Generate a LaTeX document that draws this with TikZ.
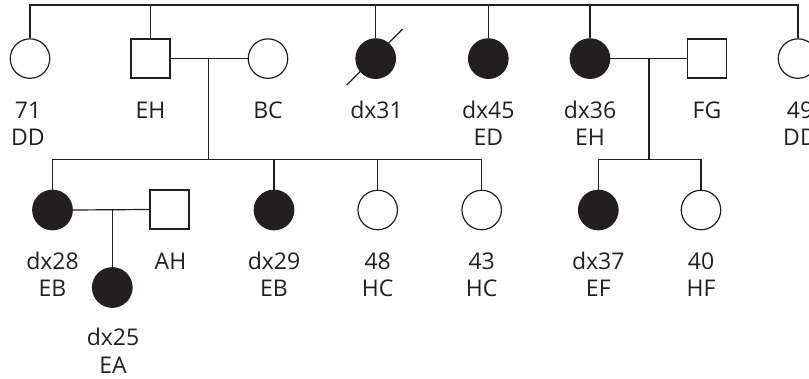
\documentclass[tikz,border=0pt]{standalone}
\usepackage{fontspec}
\setmainfont{Open Sans}
\definecolor{ink}{HTML}{231F20}
\newcommand\plab[5]{%
  \node[lab] (#1a) at (#2,#3) {#4};
  \node[lab] (#1b) at (#2,#3+27.7) {#5};}
\begin{document}
\begin{tikzpicture}[x=1pt,y=-1pt,color=ink,line width=1.2pt,
  fem/.style={circle,draw=ink,line width=1.2pt,minimum size=39.5pt,inner sep=0pt,fill=white},
  affected/.style={fem,fill=ink},
  male/.style={rectangle,draw=ink,line width=1.2pt,minimum size=39pt,inner sep=0pt,fill=white},
  lab/.style={font=\fontsize{23}{27}\selectfont,text=ink,anchor=base,inner sep=0pt}]
\useasboundingbox (0,0) rectangle (809,379);
\clip (0,0) rectangle (809,379);
% generation II
\node[fem] (n71) at (30,58.6) {};
\node[male] (nEH) at (150.5,58.6) {};
\node[fem] (nBC) at (268,58.6) {};
\node[affected] (n31) at (375.7,58.6) {};
\node[affected] (n45) at (488.3,58.6) {};
\node[affected] (n36) at (590,58.6) {};
\node[male] (nFG) at (707,58.6) {};
\node[fem] (n49) at (798,58.6) {};
% generation III
\node[affected] (n28) at (52.5,210) {};
\node[male] (nAH) at (169.5,209.5) {};
\node[affected] (n29) at (274,210) {};
\node[fem] (n48) at (377.7,210) {};
\node[fem] (n43) at (481.7,210) {};
\node[affected] (n37) at (598.3,210) {};
\node[fem] (n40) at (701,210) {};
% generation IV
\node[affected] (n25) at (112.3,287.5) {};
% coordinates
\coordinate (top) at (30,5);
\coordinate (m1) at (208.3,58.6);
\coordinate (s1) at (208.3,159.3);
\coordinate (m2) at (649,58.6);
\coordinate (s2) at (649,159.3);
\coordinate (m3) at (112.3,210);
% sibship of generation II
\draw (n71.north) |- (n49.north |- top) -- (n49.north);
\foreach \k in {nEH,n31,n45,n36} \draw (\k.north) -- (\k.north |- top);
% deceased
\draw ([shift={(-29,26.5)}]n31.center) -- ([shift={(27,-29.5)}]n31.center);
% EH x BC
\draw (nEH.east) -- (nBC.west);
\draw (m1) -- (s1);
\draw (n28.north) |- (n43.north |- s1) -- (n43.north);
\foreach \k in {n29,n48} \draw (\k.north) -- (\k.north |- s1);
% dx36 x FG
\draw (n36.east) -- (nFG.west);
\draw (m2) -- (s2);
\draw (n37.north) |- (n40.north |- s2) -- (n40.north);
% dx28 x AH
\draw (n28.east) -- (nAH.west);
\draw (m3) -- (n25.north);
% labels
\plab{l71}{28}{118.3}{71}{DD}
\node[lab] (lEH) at (150.5,118.3) {EH};
\node[lab] (lBC) at (268,118.3) {BC};
\node[lab] (l31) at (376.5,118.3) {dx31};
\plab{l45}{488.3}{118.3}{dx45}{ED}
\plab{l36}{590}{118.3}{dx36}{EH}
\node[lab] (lFG) at (707,118.3) {FG};
\plab{l49}{800}{118.3}{49}{DD}
\plab{l28}{52.5}{269.3}{dx28}{EB}
\node[lab] (lAH) at (170.5,269.3) {AH};
\plab{l29}{274}{269.3}{dx29}{EB}
\plab{l48}{377.7}{269.3}{48}{HC}
\plab{l43}{481.7}{269.3}{43}{HC}
\plab{l37}{598.3}{269.3}{dx37}{EF}
\plab{l40}{701}{269.3}{40}{HF}
\plab{l25}{113}{346}{dx25}{EA}
\end{tikzpicture}
\end{document}
